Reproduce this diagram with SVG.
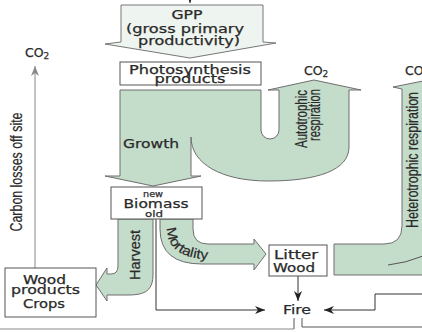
<svg xmlns="http://www.w3.org/2000/svg" width="422" height="332" viewBox="0 0 422 332">
<defs>
<style>
.flow{fill:#c4dcca;stroke:#6e6e6e;stroke-width:1;stroke-linejoin:round}
.box{fill:#fff;stroke:#555;stroke-width:1}
.t{font-family:"DejaVu Sans",Verdana,sans-serif;fill:#2a2a2a;stroke:#2a2a2a;stroke-width:0.25;text-anchor:middle}
.r{font-family:"Liberation Sans",Arial,sans-serif;fill:#2a2a2a;stroke:#2a2a2a;stroke-width:0.2;text-anchor:middle}
.ln{fill:none;stroke:#333;stroke-width:1}
.gl{fill:none;stroke:#888;stroke-width:1}
</style>
<marker id="ah" viewBox="0 0 10 8" refX="10" refY="4" markerWidth="10" markerHeight="8" markerUnits="userSpaceOnUse" orient="auto">
<path d="M0,0 L10,4 L0,8 L3,4 Z" fill="#222"/>
</marker>
<marker id="ahg" viewBox="0 0 10 8" refX="10" refY="4" markerWidth="10" markerHeight="8" markerUnits="userSpaceOnUse" orient="auto">
<path d="M0,0 L10,4 L0,8 L3,4 Z" fill="#888"/>
</marker>
</defs>
<rect width="422" height="332" fill="#fff"/>

<g id="connectors">
  <path class="ln" d="M190,-4 V3" marker-end="url(#ah)"/>
  <path class="flow" d="M120,90 H261 V130 A9,9 0 0 0 279,130 V90 H268 L314,80 L361,90 H349 V147 C349,170 318,181 268,181 C222,181 191,164 191,137 V176 H201 L153,186 L105,176 H120 Z"/>
  <text class="t" x="151" y="148" font-size="12" textLength="56" lengthAdjust="spacingAndGlyphs">Growth</text>
  <text class="r" transform="translate(307,119) scale(1.15,1) rotate(-90)" font-size="14" textLength="58" lengthAdjust="spacingAndGlyphs">Autotrophic</text>
  <text class="r" transform="translate(320,115) scale(1.15,1) rotate(-90)" font-size="14" textLength="52" lengthAdjust="spacingAndGlyphs">respiration</text>
  <path class="flow" d="M430,275 H334 V244 H384 Q402,244 402,226 V89 L393,87 L428,80 V275 Z"/>
  <path class="gl" d="M388,265 Q406,263 423,256" style="stroke:#555"/>
  <text class="r" transform="translate(418,160) scale(1.1,1) rotate(-90)" font-size="15" textLength="136" lengthAdjust="spacingAndGlyphs">Heterotrophic respiration</text>
  <path class="flow" d="M118,219 H153 V274 C153,290 146,295 128,295 H107 V301 L96,285 L107,268 V274 H111 Q118,274 118,266 Z"/>
  <text class="r" transform="translate(140,255) scale(1.1,1) rotate(-90)" font-size="14" textLength="50" lengthAdjust="spacingAndGlyphs">Harvest</text>
  <path class="flow" d="M160,219 H193 V229 Q193,244 208,244 H254 V239 L266,254 L254,270 V264 H202 Q160,264 160,229 Z"/>
  <path id="mortPath" d="M167,227 C167,250 182,260 220,260" fill="none"/>
  <text class="r" font-size="13.5" style="text-anchor:start"><textPath href="#mortPath" startOffset="1" textLength="58" lengthAdjust="spacingAndGlyphs">Mortality</textPath></text>
  <path class="ln" d="M156,219 V310 H265" marker-end="url(#ah)"/>
  <path class="ln" d="M298,276 V301" marker-end="url(#ah)"/>
  <path class="ln" d="M423,294 H375 V310 H324" marker-end="url(#ah)"/>
  <path class="ln" d="M294,318 V329" style="stroke:#555"/>
  <path class="gl" d="M0,329 H294"/>
  <path class="ln" d="M302,318 V327 H423" style="stroke:#555"/>
  <path class="gl" d="M35,268 V66" marker-end="url(#ahg)"/>
  <text class="r" transform="translate(22,172) scale(1.1,1) rotate(-90)" font-size="15" textLength="119" lengthAdjust="spacingAndGlyphs">Carbon losses off site</text>
</g>

<g id="gpp">
  <path d="M121,5 H263 V42 L276,43 L190,58 L105,44 L121,42 Z" fill="#eef4ef" stroke="#777" stroke-width="1"/>
  <text class="t" x="187" y="19" font-size="12" textLength="31" lengthAdjust="spacingAndGlyphs">GPP</text>
  <text class="t" x="185" y="33" font-size="12" textLength="118" lengthAdjust="spacingAndGlyphs">(gross primary</text>
  <text class="t" x="189" y="45" font-size="12" textLength="102" lengthAdjust="spacingAndGlyphs">productivity)</text>
</g>

<g id="photosynthesis">
  <rect class="box" x="120" y="62" width="141" height="23"/>
  <text class="t" x="190" y="74" font-size="11.5" textLength="122" lengthAdjust="spacingAndGlyphs">Photosynthesis</text>
  <text class="t" x="190" y="83" font-size="11.5" textLength="71" lengthAdjust="spacingAndGlyphs">products</text>
</g>

<g id="biomass">
  <rect class="box" x="111" y="187" width="91" height="32"/>
  <text class="t" x="153" y="197" font-size="9" textLength="20" lengthAdjust="spacingAndGlyphs">new</text>
  <text class="t" x="156" y="208" font-size="12" textLength="65" lengthAdjust="spacingAndGlyphs">Biomass</text>
  <text class="t" x="154" y="216.5" font-size="9" textLength="18" lengthAdjust="spacingAndGlyphs">old</text>
</g>

<g id="litter">
  <rect class="box" x="269" y="245" width="58" height="31"/>
  <text class="t" x="296" y="259" font-size="12" textLength="44" lengthAdjust="spacingAndGlyphs">Litter</text>
  <text class="t" x="294" y="272" font-size="12" textLength="42" lengthAdjust="spacingAndGlyphs">Wood</text>
</g>

<g id="wood-products">
  <rect class="box" x="5" y="268" width="91" height="49"/>
  <text class="t" x="44.5" y="284" font-size="11.5" textLength="43" lengthAdjust="spacingAndGlyphs">Wood</text>
  <text class="t" x="45.5" y="294" font-size="11.5" textLength="69" lengthAdjust="spacingAndGlyphs">products</text>
  <text class="t" x="44" y="308" font-size="11.5" textLength="42" lengthAdjust="spacingAndGlyphs">Crops</text>
</g>

<g id="fire">
  <text class="t" x="297" y="314" font-size="12" textLength="28" lengthAdjust="spacingAndGlyphs">Fire</text>
</g>

<g id="co2-left">
  <text class="t" x="25" y="57" font-size="12.5" style="text-anchor:start">CO<tspan font-size="9" dy="2">2</tspan></text>
</g>
<g id="co2-auto">
  <text class="t" x="304" y="75" font-size="12.5" style="text-anchor:start">CO<tspan font-size="9" dy="2">2</tspan></text>
</g>
<g id="co2-hetero">
  <text class="t" x="405" y="75" font-size="12.5" style="text-anchor:start">CO<tspan font-size="9" dy="2">2</tspan></text>
</g>
</svg>
